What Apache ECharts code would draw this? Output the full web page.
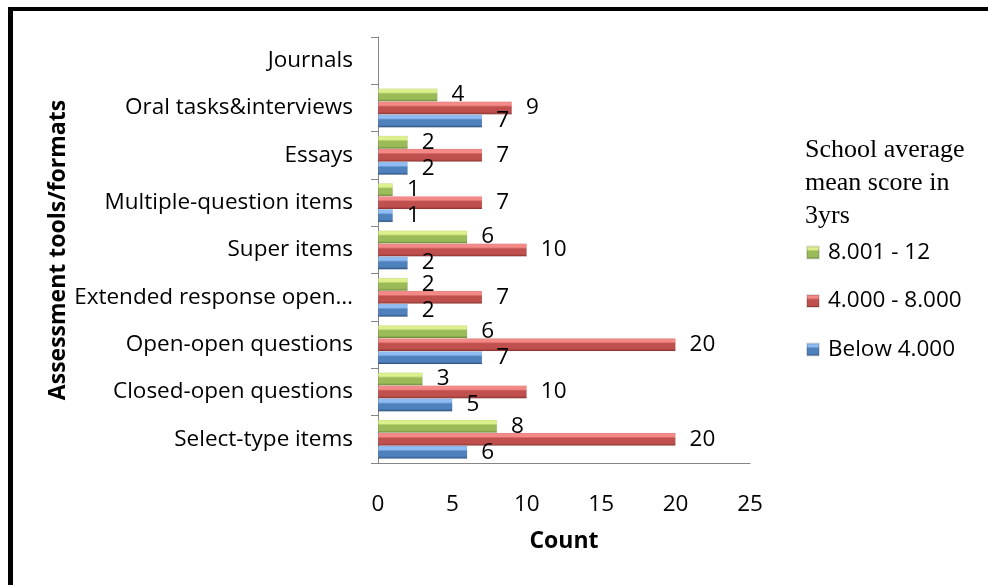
<!DOCTYPE html>
<html>
<head>
<meta charset="utf-8">
<title>Assessment tools/formats by school average mean score</title>
<script src="https://cdn.jsdelivr.net/npm/echarts@6/dist/echarts.min.js"></script>
<style>
  html, body { margin: 0; padding: 0; background: #ffffff; }
  #chart { width: 988px; height: 585px; }
</style>
</head>
<body>
<div id="chart"></div>
<script>
// Assessment formats, listed bottom to top on the category axis
const categories = [
  'Select-type items',
  'Closed-open questions',
  'Open-open questions',
  'Extended response open…',
  'Super items',
  'Multiple-question items',
  'Essays',
  'Oral tasks&interviews',
  'Journals'
];

// Counts per school-average band (Journals has no entries)
const below4 = [6, 5, 7, 2, 2, 1, 2, 7, null];
const from4to8 = [20, 10, 20, 7, 10, 7, 7, 9, null];
const from8to12 = [8, 3, 6, 2, 6, 1, 2, 4, null];

const seriesNames = ['8.001 - 12', '4.000 - 8.000', 'Below 4.000'];
const xTicks = [0, 5, 10, 15, 20, 25];

const FONT = '"Open Sans", "Noto Sans", sans-serif';
const TEXT_SIZE = 22.5;

// Bevelled bar fill: light highlight on top, base tone, dark shade below
function bevel(light, base, dark) {
  return {
    type: 'linear', x: 0, y: 0, x2: 0, y2: 1,
    colorStops: [
      { offset: 0, color: light },
      { offset: 0.28, color: light },
      { offset: 0.42, color: base },
      { offset: 0.8, color: base },
      { offset: 1, color: dark }
    ]
  };
}

// series listed top-to-bottom within each category band
const dataSets = [from8to12, from4to8, below4];
const fills = [
  bevel('#dcf08c', '#9bbb59', '#6e8a36'),
  bevel('#f48a88', '#c0504d', '#8a3331'),
  bevel('#8fbcf2', '#4f81bd', '#2d4f7c')
];
const legendColors = ['#9bbb59', '#c0504d', '#4f81bd'];

const series = seriesNames.map((name, i) => ({
  name: name,
  type: 'bar',
  data: dataSets[i],
  barWidth: 13,
  barGap: '0%',
  itemStyle: { color: fills[i], borderColor: 'rgba(0,0,0,0.12)', borderWidth: 0.5 },
  label: {
    show: true,
    position: 'right',
    distance: 14,
    fontFamily: FONT,
    fontSize: TEXT_SIZE,
    color: '#000',
    formatter: p => (p.value == null ? '' : String(p.value))
  }
}));

const chart = echarts.init(document.getElementById('chart'), null, { renderer: 'canvas' });

chart.setOption({
  animation: false,
  backgroundColor: '#ffffff',
  color: legendColors,
  title: {
    text: 'School average\nmean score in\n3yrs',
    left: 800,
    top: 129,
    textStyle: {
      fontFamily: '"Liberation Serif", "DejaVu Serif", serif',
      fontWeight: 'normal',
      fontSize: 26,
      lineHeight: 33,
      color: '#000'
    }
  },
  legend: {
    orient: 'vertical',
    left: 801,
    top: 236,
    data: seriesNames,
    icon: 'rect',
    itemWidth: 12,
    itemHeight: 12,
    itemGap: 25.5,
    textStyle: {
      fontFamily: FONT,
      fontSize: TEXT_SIZE,
      lineHeight: 22,
      color: '#000',
      padding: [0, 0, 0, 4]
    }
  },
  grid: {
    left: 378,
    right: 238,
    top: 37,
    bottom: 122,
    containLabel: false,
    outerBoundsMode: 'none'
  },
  xAxis: {
    type: 'value',
    min: xTicks[0],
    max: xTicks[xTicks.length - 1],
    interval: 5,
    name: 'Count',
    nameLocation: 'middle',
    nameGap: 67,
    nameTextStyle: { fontFamily: FONT, fontSize: 23, fontWeight: 'bold', color: '#000' },
    axisLine: { show: true, lineStyle: { color: '#868686', width: 1 } },
    axisTick: { show: false },
    splitLine: { show: false },
    axisLabel: { margin: 30, fontFamily: FONT, fontSize: TEXT_SIZE, color: '#000' }
  },
  yAxis: {
    type: 'category',
    data: categories,
    name: 'Assessment tools/formats',
    nameLocation: 'middle',
    nameGap: 295,
    nameTextStyle: { fontFamily: FONT, fontSize: 23, fontWeight: 'bold', color: '#000' },
    axisLine: { show: true, lineStyle: { color: '#868686', width: 1 } },
    axisTick: { show: true, inside: false, length: 7, lineStyle: { color: '#868686' } },
    axisLabel: { margin: 25, fontFamily: FONT, fontSize: TEXT_SIZE, color: '#000' },
    splitLine: { show: false }
  },
  graphic: [
    // frame lines on the top and left edges
    { type: 'rect', shape: { x: 8, y: 7, width: 980, height: 4 }, style: { fill: '#000' }, silent: true },
    { type: 'rect', shape: { x: 8, y: 7, width: 5, height: 578 }, style: { fill: '#000' }, silent: true }
  ],
  series: series
});
</script>
</body>
</html>
